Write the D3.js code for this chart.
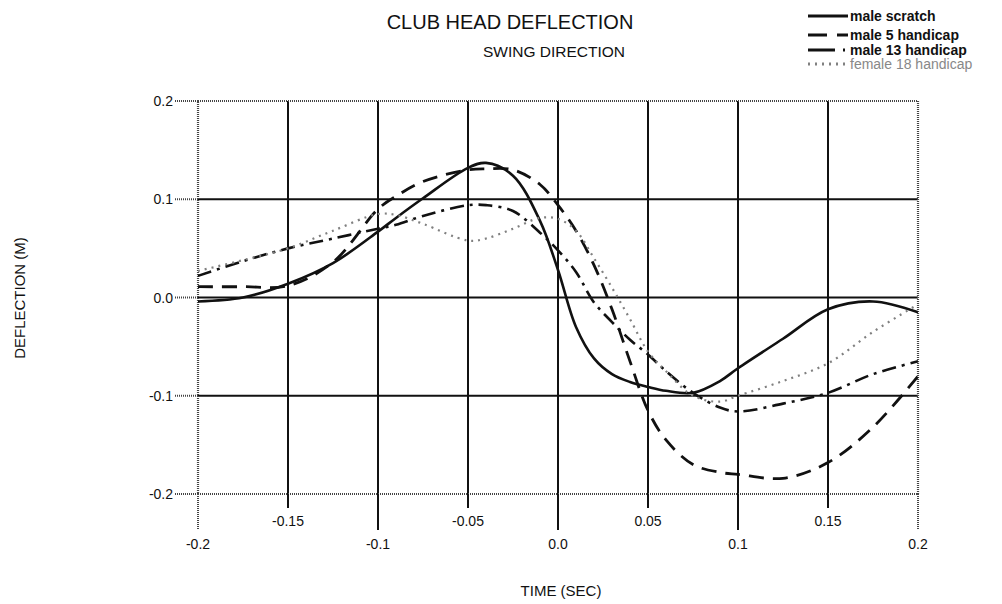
<!DOCTYPE html>
<html>
<head>
<meta charset="utf-8">
<script src="https://cdn.jsdelivr.net/npm/d3@7"></script>
<style>
body { margin: 0; background: #fff; }
text { font-family: "Liberation Sans", Arial, Helvetica, sans-serif; fill: #111; }
</style>
</head>
<body>
<svg id="chart" width="1002" height="604"></svg>
<script>
// time samples (sec) shared by all four curves
var times = [-0.2, -0.175, -0.15, -0.125, -0.1, -0.09, -0.075, -0.05, -0.04, -0.025, -0.01, 0,
             0.01, 0.02, 0.03, 0.04, 0.05, 0.06, 0.075, 0.09, 0.1, 0.125, 0.15, 0.175, 0.2];

var maleScratch = [-0.004, 0.0, 0.014, 0.035, 0.067, 0.081, 0.101, 0.132, 0.137, 0.124, 0.078, 0.028,
                   -0.03, -0.062, -0.078, -0.086, -0.091, -0.095, -0.097, -0.085, -0.072, -0.042, -0.012, -0.004, -0.015];
var male5 = [0.011, 0.011, 0.012, 0.036, 0.09, 0.103, 0.118, 0.13, 0.131, 0.13, 0.115, 0.094,
             0.068, 0.033, -0.012, -0.065, -0.115, -0.145, -0.17, -0.178, -0.18, -0.184, -0.168, -0.132, -0.08];
var male13 = [0.022, 0.037, 0.05, 0.06, 0.07, 0.074, 0.083, 0.094, 0.094, 0.088, 0.066, 0.048,
              0.026, -0.005, -0.025, -0.043, -0.058, -0.075, -0.097, -0.112, -0.116, -0.108, -0.097, -0.078, -0.065];
var female18 = [0.027, 0.038, 0.05, 0.068, 0.085, 0.084, 0.075, 0.058, 0.06, 0.07, 0.081, 0.08,
                0.068, 0.04, 0.01, -0.022, -0.055, -0.075, -0.1, -0.106, -0.1, -0.085, -0.067, -0.035, -0.007];

var seriesNames = ["male scratch", "male 5 handicap", "male 13 handicap", "female 18 handicap"];

var xTicks = [-0.2, -0.15, -0.1, -0.05, 0, 0.05, 0.1, 0.15, 0.2];
var xTickLabels = ["-0.2", "-0.15", "-0.1", "-0.05", "0.0", "0.05", "0.1", "0.15", "0.2"];
var yTicks = [-0.2, -0.1, 0, 0.1, 0.2];
var yTickLabels = ["-0.2", "-0.1", "0.0", "0.1", "0.2"];

var svg = d3.select("#chart");

var x = d3.scaleLinear().domain([-0.2, 0.2]).range([198, 918]);
var y = d3.scaleLinear().domain([-0.2, 0.2]).range([494, 101]);

// line looks, in the same order as seriesNames
var looks = [
    { stroke: "#111", width: 2.6, dash: null },
    { stroke: "#111", width: 2.8, dash: "15,9" },
    { stroke: "#111", width: 2.6, dash: "14,6,3,6" },
    { stroke: "#808080", width: 2.2, dash: "2,5" }
];

/*****************  Grid **********************/

svg.selectAll(".vgrid")
    .data(xTicks.filter(function (d, i) { return i > 0 && i < xTicks.length - 1; }))
    .enter()
    .append("line")
    .attr("class", "vgrid")
    .attr("x1", function (d) { return x(d); })
    .attr("x2", function (d) { return x(d); })
    .attr("y1", y(0.2))
    .attr("y2", y(-0.2))
    .attr("stroke", "#111")
    .attr("stroke-width", 2);

svg.selectAll(".hgrid")
    .data(yTicks.filter(function (d, i) { return i > 0 && i < yTicks.length - 1; }))
    .enter()
    .append("line")
    .attr("class", "hgrid")
    .attr("x1", x(-0.2))
    .attr("x2", x(0.2))
    .attr("y1", function (d) { return y(d); })
    .attr("y2", function (d) { return y(d); })
    .attr("stroke", "#111")
    .attr("stroke-width", 2);

/*****************  Frame (stippled) **********************/

svg.append("rect")
    .attr("x", x(-0.2))
    .attr("y", y(0.2))
    .attr("width", x(0.2) - x(-0.2))
    .attr("height", y(-0.2) - y(0.2))
    .attr("fill", "none")
    .attr("stroke", "#444")
    .attr("stroke-width", 2.2)
    .attr("stroke-dasharray", "1,1");

/*****************  Ticks **********************/

// x ticks: long for the lower label row, short for the upper one
svg.selectAll(".xtick")
    .data(xTicks)
    .enter()
    .append("line")
    .attr("class", "xtick")
    .attr("x1", function (d) { return x(d); })
    .attr("x2", function (d) { return x(d); })
    .attr("y1", y(-0.2))
    .attr("y2", function (d, i) { return y(-0.2) + (i % 2 == 0 ? 36 : 14); })
    .attr("stroke", function (d, i) { return (i == 0 || i == xTicks.length - 1) ? "#444" : "#111"; })
    .attr("stroke-width", 2)
    .attr("stroke-dasharray", function (d, i) { return (i == 0 || i == xTicks.length - 1) ? "1,1" : null; });

svg.selectAll(".xlabel")
    .data(xTicks)
    .enter()
    .append("text")
    .attr("class", "xlabel")
    .attr("x", function (d) { return x(d); })
    .attr("y", function (d, i) { return i % 2 == 0 ? 549 : 526; })
    .attr("text-anchor", "middle")
    .attr("font-size", "14px")
    .text(function (d, i) { return xTickLabels[i]; });

svg.selectAll(".ytick")
    .data(yTicks)
    .enter()
    .append("line")
    .attr("class", "ytick")
    .attr("x1", x(-0.2) - 23)
    .attr("x2", x(-0.2))
    .attr("y1", function (d) { return y(d); })
    .attr("y2", function (d) { return y(d); })
    .attr("stroke", "#444")
    .attr("stroke-width", 2)
    .attr("stroke-dasharray", "1,1");

svg.selectAll(".ylabel")
    .data(yTicks)
    .enter()
    .append("text")
    .attr("class", "ylabel")
    .attr("x", x(-0.2) - 25)
    .attr("y", function (d) { return y(d) + 5; })
    .attr("text-anchor", "end")
    .attr("font-size", "14px")
    .text(function (d, i) { return yTickLabels[i]; });

/*****************  Curves **********************/

var allSeries = [maleScratch, male5, male13, female18];

var line = d3.line()
    .x(function (d, i) { return x(times[i]); })
    .y(function (d) { return y(d); })
    .curve(d3.curveCatmullRom.alpha(0.5));

svg.selectAll(".curve")
    .data(allSeries)
    .enter()
    .append("path")
    .attr("class", "curve")
    .attr("d", function (d) { return line(d); })
    .attr("fill", "none")
    .attr("stroke", function (d, i) { return looks[i].stroke; })
    .attr("stroke-width", function (d, i) { return looks[i].width; })
    .attr("stroke-dasharray", function (d, i) { return looks[i].dash; });

/*****************  Titles **********************/

svg.append("text")
    .attr("x", 510)
    .attr("y", 29)
    .attr("text-anchor", "middle")
    .attr("font-size", "20px")
    .text("CLUB HEAD DEFLECTION");

svg.append("text")
    .attr("x", 554)
    .attr("y", 57)
    .attr("text-anchor", "middle")
    .attr("font-size", "15.5px")
    .text("SWING DIRECTION");

svg.append("text")
    .attr("x", 561)
    .attr("y", 596)
    .attr("text-anchor", "middle")
    .attr("font-size", "15px")
    .text("TIME (SEC)");

svg.append("text")
    .attr("transform", "translate(25,298) rotate(-90)")
    .attr("text-anchor", "middle")
    .attr("font-size", "15px")
    .text("DEFLECTION (M)");

/*****************  Legend **********************/

var legendY = [16, 35, 50, 64];

svg.selectAll(".legLine")
    .data(seriesNames)
    .enter()
    .append("line")
    .attr("class", "legLine")
    .attr("x1", 808)
    .attr("x2", 848)
    .attr("y1", function (d, i) { return legendY[i]; })
    .attr("y2", function (d, i) { return legendY[i]; })
    .attr("stroke", function (d, i) { return looks[i].stroke; })
    .attr("stroke-width", 3)
    .attr("stroke-dasharray", function (d, i) {
        if (i == 1) return "19,10";
        if (i == 2) return "27,8,2,8";
        return looks[i].dash;
    });

svg.selectAll(".legText")
    .data(seriesNames)
    .enter()
    .append("text")
    .attr("class", "legText")
    .attr("x", 850)
    .attr("y", function (d, i) { return legendY[i] + 5; })
    .attr("font-size", "14px")
    .attr("font-weight", function (d, i) { return i == 3 ? "normal" : "bold"; })
    .style("fill", function (d, i) { return i == 3 ? "#888" : "#111"; })
    .text(function (d) { return d; });
</script>
</body>
</html>
